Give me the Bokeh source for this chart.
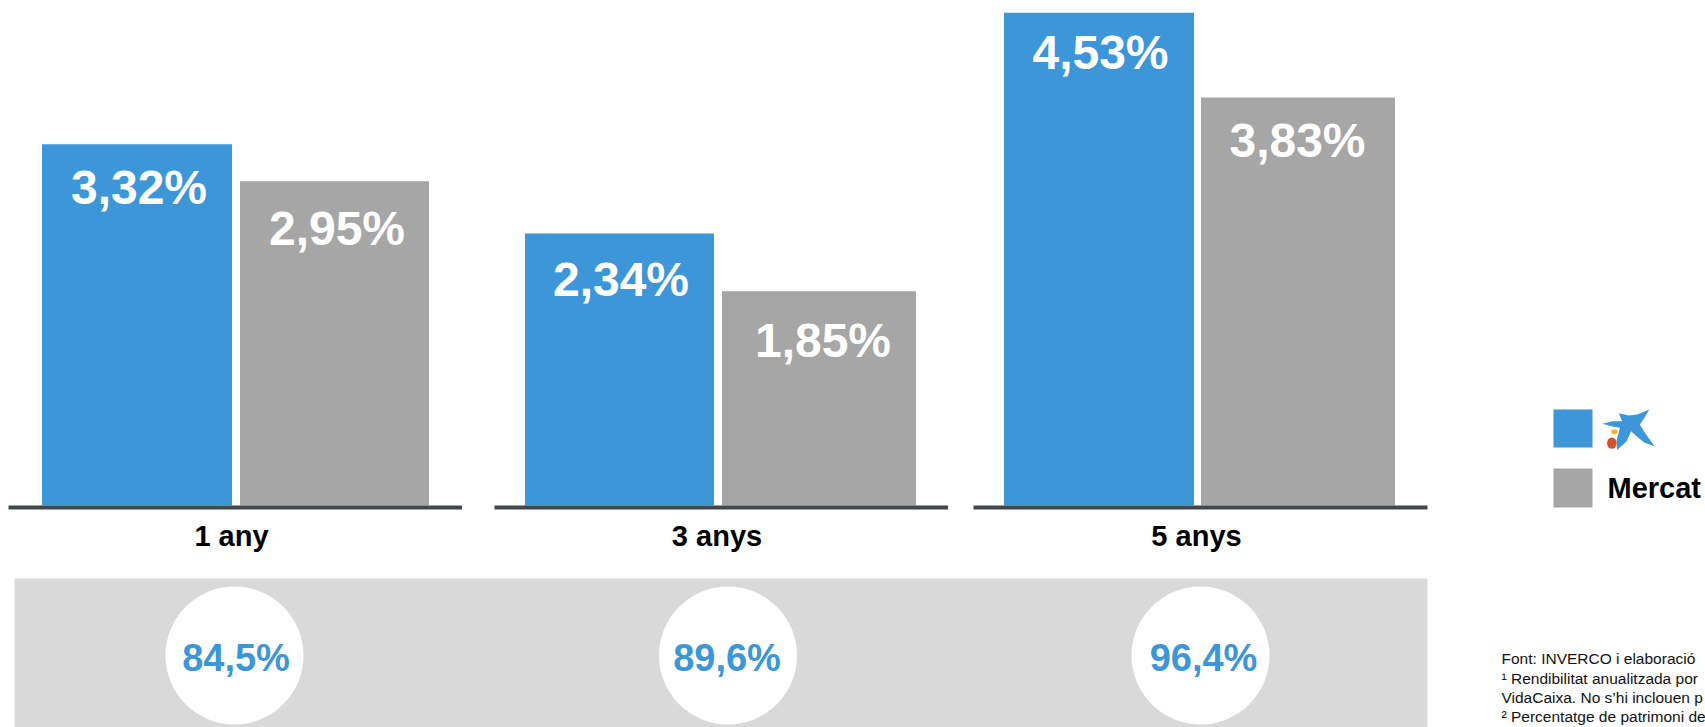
from bokeh.plotting import figure
from bokeh.models import Range1d
from bokeh.core.properties import value
from bokeh.embed import file_html
from bokeh.resources import INLINE

# ---- data ----
periods = ["1 any", "3 anys", "5 anys"]
# Printed labels
caixa_labels = ["3,32%", "2,34%", "4,53%"]
market_labels = ["2,95%", "1,85%", "3,83%"]
# Bar heights (the source chart is not drawn exactly to its labels)
caixa_heights = [3.32, 2.50, 4.53]
market_heights = [2.98, 1.97, 3.75]
share_labels = ["84,5%", "89,6%", "96,4%"]
legend_market = "Mercat"
notes = [
    "Font: INVERCO i elaboració",
    "\u00b9 Rendibilitat anualitzada por",
    "VidaCaixa. No s\u2019hi inclouen p",
    "\u00b2 Percentatge de patrimoni de",
]

# ---- styles / layout (reference pixels) ----
BLUE, GREY, BAND, AXIS = "#3C96D8", "#A6A6A6", "#D9D9D9", "#41484C"
FONT = value("Liberation Sans")
W, H = 1705, 727
BASE = 505
UNIT = 108.8
BASELINE_SHIFT = 0.34  # em; renderer offset of alphabetic text

caixa_left, caixa_right = [41.5, 524.5, 1003.5], [231.5, 713.5, 1193.5]
market_left, market_right = [239.5, 721.5, 1200.5], [428.5, 915.5, 1394.5]
axis_left, axis_right = [8, 494, 973], [461.5, 947.5, 1427]
caixa_tx, caixa_ty = [138.5, 620.5, 1100], [203.5, 295, 68]
market_tx, market_ty = [336.5, 822.5, 1297], [244, 356, 156]
period_x = [231, 716.5, 1196]
circle_x = [234, 727.5, 1200]
share_x = [235.5, 726.5, 1203]

p = figure(
    width=W, height=H, output_backend="svg", toolbar_location=None,
    x_range=Range1d(0, W),
    y_range=Range1d(-(H - BASE) / UNIT, BASE / UNIT),
    x_axis_type=None, y_axis_type=None,
    min_border=0, outline_line_color=None, background_fill_color="white",
)
p.extra_y_ranges = {"px": Range1d(H, 0)}


def text(xs, ys, labels, size, color, bold=True, align="center"):
    ys = [y - BASELINE_SHIFT * size for y in ys]
    p.text(xs, ys, text=labels, y_range_name="px", text_font=FONT,
           text_font_size=f"{size}px", text_font_style="bold" if bold else "normal",
           text_color=color, text_align=align, text_baseline="alphabetic")


# band and share circles
p.quad(left=[14], right=[1427], top=[578], bottom=[727], y_range_name="px",
       fill_color=BAND, line_color=None)
p.circle(x=circle_x, y=[655] * 3, radius=69, y_range_name="px",
         fill_color="white", line_color=None)
text(share_x, [670] * 3, share_labels, 38, BLUE)

# bars
p.quad(left=caixa_left, right=caixa_right, bottom=0, top=caixa_heights,
       fill_color=BLUE, line_color=None)
p.quad(left=market_left, right=market_right, bottom=0, top=market_heights,
       fill_color=GREY, line_color=None)
p.quad(left=axis_left, right=axis_right, top=[505] * 3, bottom=[509] * 3,
       y_range_name="px", fill_color=AXIS, line_color=None)

text(caixa_tx, caixa_ty, caixa_labels, 48, "white")
text(market_tx, market_ty, market_labels, 48, "white")
text(period_x, [545] * 3, periods, 29, "black")

# legend
p.quad(left=[1553, 1553], right=[1592, 1592], top=[409, 468], bottom=[447, 507],
       y_range_name="px", fill_color=[BLUE, GREY], line_color=None)
text([1607], [497], [legend_market], 29, "black", align="left")

# logo
star_x = [1602, 1611.7, 1621.7, 1618.3, 1628.3, 1636.7, 1648.7, 1644, 1639.3, 1645,
          1654.3, 1643.3, 1632.7, 1630.7, 1626, 1616.5, 1616, 1619.5, 1611.7]
star_y = [423.3, 420.7, 420.7, 412.7, 415, 414, 409, 417.3, 424, 433.3,
          446, 441.7, 432.7, 430.7, 441, 449.5, 440, 427.3, 426]
p.patch(star_x, star_y, y_range_name="px", fill_color=BLUE, line_color=None)
p.ellipse(x=[1614], y=[431.3], width=6.5, height=5, y_range_name="px",
          fill_color="#F0B429", line_color=None)
p.ellipse(x=[1611.3], y=[442.7], width=9.5, height=11.3, y_range_name="px",
          fill_color="#D0532B", line_color=None)

# notes
text([1501] * 4, [663, 683, 702, 721], notes, 15.5, "#111111", bold=False, align="left")

open("out.html", "w").write(file_html(p, INLINE))
